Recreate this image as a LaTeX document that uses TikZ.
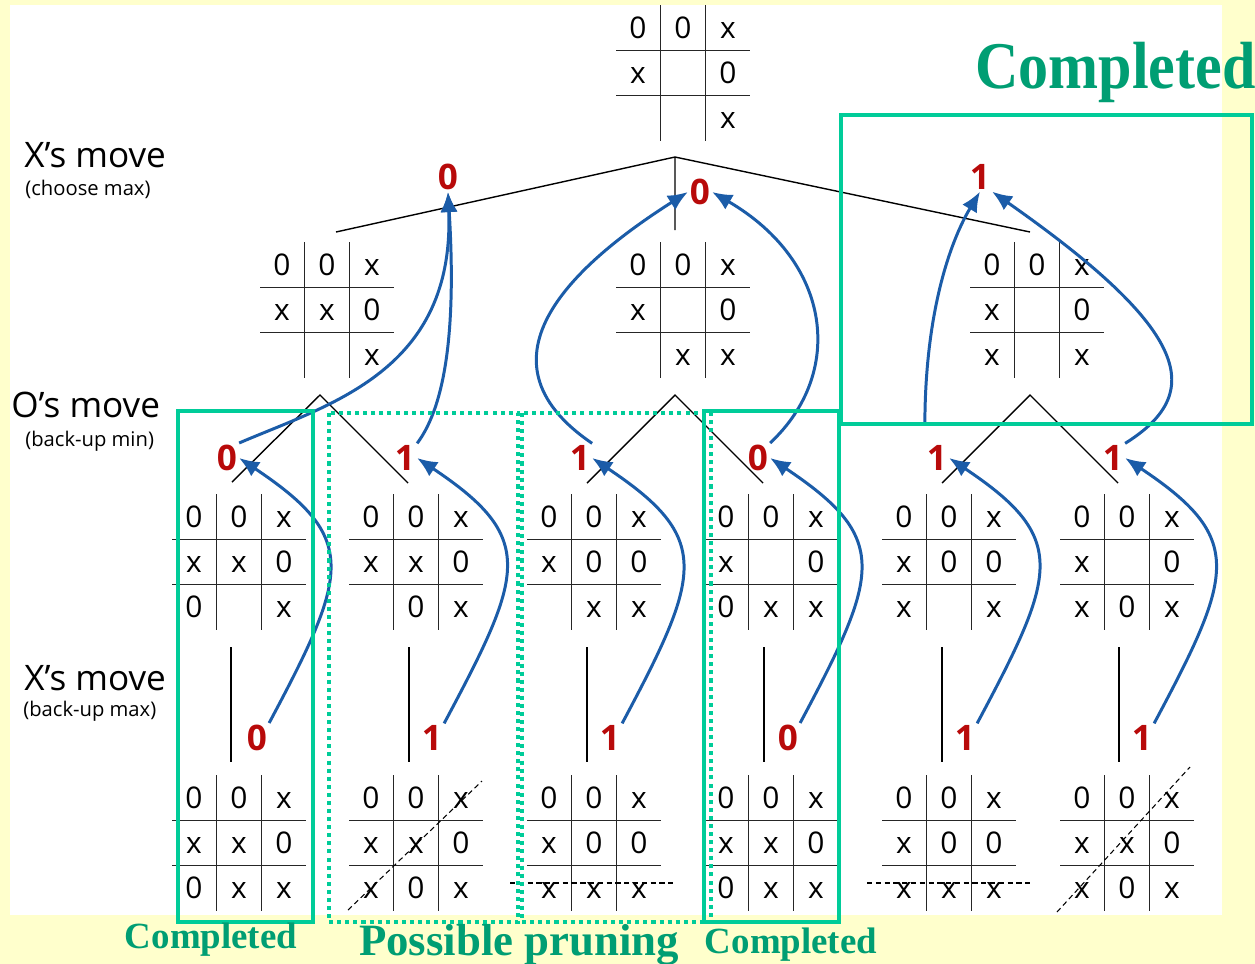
\documentclass[tikz,border=0pt]{standalone}
\usepackage{fontspec}
\setmainfont{Liberation Serif}
\newfontfamily\sansfont{Open Sans}
\usepackage{xcolor}
\definecolor{cPaper}{HTML}{FFFFCC}
\definecolor{cBox}{HTML}{00CC99}
\definecolor{cLabel}{HTML}{009E73}
\definecolor{cArrow}{HTML}{1B5CA8}
\definecolor{cVal}{HTML}{B80A0A}
\usepackage{tikz}
\usetikzlibrary{arrows.meta}

% one tic-tac-toe board: name, centre, three rows
\newcommand{\tttboard}[5]{%
  \begin{scope}[shift={#2}]
    \coordinate (#1) at (0,0);
    \draw[gridline] (-67,-22.5) -- (67,-22.5) (-67,22.5) -- (67,22.5)
                    (-22.5,-68) -- (-22.5,68) (22.5,-68) -- (22.5,68);
    \foreach \c [count=\i] in {#3} \node[cell] (#1r1\i) at (\i*45-90,-45) {\c};
    \foreach \c [count=\i] in {#4} \node[cell] (#1r2\i) at (\i*45-90,0) {\c};
    \foreach \c [count=\i] in {#5} \node[cell] (#1r3\i) at (\i*45-90,45) {\c};
  \end{scope}}

\begin{document}
\begin{tikzpicture}[
    x=0.02cm, y=-0.02cm,
    cell/.style={font=\sansfont\fontsize{17}{19}\selectfont, inner sep=0pt,
                 text height=12pt, text depth=0pt},
    gridline/.style={line width=1.1pt, color=black!85},
    treeline/.style={line width=0.8pt, color=black},
    val/.style={font=\sansfont\bfseries\fontsize{20}{22}\selectfont,
                text=cVal, inner sep=1pt},
    back/.style={-{Latex[length=4mm, width=3.4mm]}, line width=1.7pt, color=cArrow},
    done/.style={draw=cBox, line width=2.3pt},
    prune/.style={draw=cBox, line width=2.3pt, dash pattern=on 2.3pt off 2.3pt},
    winline/.style={line width=0.6pt, dash pattern=on 3pt off 2pt},
    side/.style={font=\sansfont\fontsize{20}{22}\selectfont, inner sep=0pt, anchor=base west},
    sidesub/.style={font=\sansfont\fontsize{11.5}{13}\selectfont, inner sep=0pt, anchor=base west},
    note/.style={font=\bfseries\fontsize{21}{24}\selectfont, text=cLabel, inner sep=0pt, anchor=base}
]
\useasboundingbox (0,0) rectangle (1255,964);
\fill[cPaper] (0,0) rectangle (1255,964);
\fill[white] (10,5) rectangle (1222,915);

% tree edges
\coordinate (top) at (675,157);
\coordinate (e1a) at (336,232);
\coordinate (e1b) at (675,230);
\coordinate (e1c) at (1030,232);
\draw[treeline] (e1a) -- (top) -- (e1c) (top) -- (e1b);
\coordinate (apxa) at (320,395);
\coordinate (apxb) at (675,395);
\coordinate (apxc) at (1030,395);
\coordinate (e2a) at (232,482);
\coordinate (e2b) at (408,483);
\coordinate (e2c) at (587,483);
\coordinate (e2d) at (763,483);
\coordinate (e2e) at (942,483);
\coordinate (e2f) at (1118,483);
\draw[treeline] (e2a) -- (apxa) -- (e2b);
\draw[treeline] (e2c) -- (apxb) -- (e2d);
\draw[treeline] (e2e) -- (apxc) -- (e2f);
\foreach \x [count=\i] in {231,409,587,764,942,1119}
  \draw[treeline] (\x,647) -- (\x,762);

% boards
\tttboard{root}{(683,73)}{0,0,x}{x,{},0}{{},{},x}
\tttboard{b1a}{(327,310)}{0,0,x}{x,x,0}{{},{},x}
\tttboard{b1b}{(683,310)}{0,0,x}{x,{},0}{{},x,x}
\tttboard{b1c}{(1037,310)}{0,0,x}{x,{},0}{x,{},x}
\tttboard{b2a}{(239,562)}{0,0,x}{x,x,0}{0,{},x}
\tttboard{b2b}{(416,562)}{0,0,x}{x,x,0}{{},0,x}
\tttboard{b2c}{(594,562)}{0,0,x}{x,0,0}{{},x,x}
\tttboard{b2d}{(771,562)}{0,0,x}{x,{},0}{0,x,x}
\tttboard{b2e}{(949,562)}{0,0,x}{x,0,0}{x,{},x}
\tttboard{b2f}{(1127,562)}{0,0,x}{x,{},0}{x,0,x}
\tttboard{b3a}{(239,843)}{0,0,x}{x,x,0}{0,x,x}
\tttboard{b3b}{(416,843)}{0,0,x}{x,x,0}{x,0,x}
\tttboard{b3c}{(594,843)}{0,0,x}{x,0,0}{x,x,x}
\tttboard{b3d}{(771,843)}{0,0,x}{x,x,0}{0,x,x}
\tttboard{b3e}{(949,843)}{0,0,x}{x,0,0}{x,x,x}
\tttboard{b3f}{(1127,843)}{0,0,x}{x,x,0}{x,0,x}
\draw[winline] (348,910) -- (482,781);
\draw[winline] (510,883) -- (673,883);
\draw[winline] (867,883) -- (1030,883);
\draw[winline] (1057,912) -- (1190,767);

% backed-up values
\node[val] (v1a) at (448,177) {0};
\node[val] (v1b) at (700,192) {0};
\node[val] (v1c) at (980,177) {1};
\node[val] (v2a) at (227,458) {0};
\node[val] (v2b) at (405,458) {1};
\node[val] (v2c) at (580,458) {1};
\node[val] (v2d) at (758,458) {0};
\node[val] (v2e) at (937,458) {1};
\node[val] (v2f) at (1113,458) {1};
\node[val] (v3a) at (257,738) {0};
\node[val] (v3b) at (432,738) {1};
\node[val] (v3c) at (610,738) {1};
\node[val] (v3d) at (788,738) {0};
\node[val] (v3e) at (965,738) {1};
\node[val] (v3f) at (1142,738) {1};

% back-up arrows
\draw[back] (v3a.north east) .. controls +(80,-150) and +(120,80) .. (v2a.east);
\draw[back] (v3b.north east) .. controls +(80,-150) and +(120,80) .. (v2b.east);
\draw[back] (v3c.north east) .. controls +(80,-150) and +(120,80) .. (v2c.east);
\draw[back] (v3d.north east) .. controls +(80,-150) and +(120,80) .. (v2d.east);
\draw[back] (v3e.north east) .. controls +(80,-150) and +(120,80) .. (v2e.east);
\draw[back] (v3f.north east) .. controls +(80,-150) and +(120,80) .. (v2f.east);
\draw[back] (v2a.north east) .. controls +(91,-39) and +(7,179) .. (v1a.south);
\draw[back] (v2b.north east) .. controls +(30,-40) and +(8,130) .. (v1a.south);
\draw[back] (v2c.north east) .. controls +(-125,-85) and +(-110,70) .. (v1b.west);
\draw[back] (v2d.north east) .. controls +(75,-70) and +(120,70) .. (v1b.east);
\draw[back, shorten <=10pt] (v2e.north west) .. controls +(0,-130) and +(-30,50) .. (v1c.south);
\draw[back] (v2f.north east) .. controls +(80,-50) and +(200,140) .. (v1c.south east);

% level captions
\node[side] (capx1) at (24,167) {X’s move};
\node[sidesub] (subx1) at (25,195) {(choose max)};
\node[side] (capo) at (11,417) {O’s move};
\node[sidesub] (subo) at (25,446) {(back-up min)};
\node[side] (capx2) at (24,690) {X’s move};
\node[sidesub] (subx2) at (23,716) {(back-up max)};

% pruning marks
\draw[done] (178,411) rectangle (313,922);
\draw[prune] (329,413) rectangle (518,922);
\draw[prune] (522,413) rectangle (711,922);
\draw[done] (704,411) rectangle (839,922);
\draw[done] (841,115) rectangle (1252,424);

\node[note, font=\bfseries\fontsize{38}{40}\selectfont, anchor=base west] (donetop) at (975,88) {\scalebox{0.9}[1]{Completed}};
\node[note] (donea) at (211,948) {Completed};
\node[note, font=\bfseries\fontsize{25.5}{28}\selectfont] (maybe) at (519,955) {Possible pruning};
\node[note] (doneb) at (791,953) {Completed};
\end{tikzpicture}
\end{document}
